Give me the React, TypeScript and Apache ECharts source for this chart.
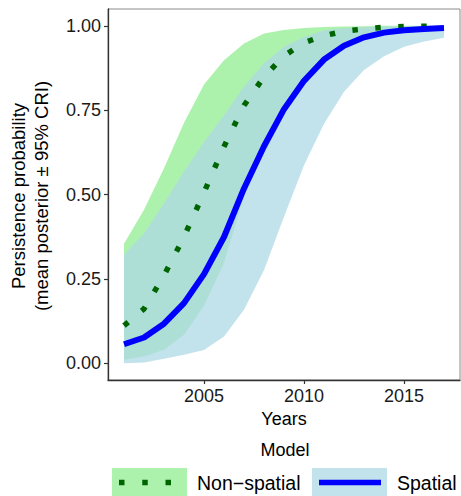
import React, { useEffect, useRef } from "react";
import * as echarts from "echarts";

const years = [2001, 2002, 2003, 2004, 2005, 2006, 2007, 2008, 2009, 2010, 2011, 2012, 2013, 2014, 2015, 2016, 2017];
const nonSpatialMean = [0.111, 0.161, 0.26, 0.374, 0.506, 0.642, 0.764, 0.849, 0.911, 0.95, 0.971, 0.984, 0.991, 0.996, 0.998, 0.999, 1.0];
const nonSpatialLower = [0.01, 0.02, 0.04, 0.084, 0.17, 0.297, 0.494, 0.63, 0.74, 0.826, 0.89, 0.933, 0.96, 0.975, 0.984, 0.989, 0.992];
const nonSpatialUpper = [0.354, 0.455, 0.578, 0.713, 0.826, 0.898, 0.948, 0.977, 0.988, 0.994, 0.997, 0.998, 0.999, 1.0, 1.0, 1.0, 1.0];
const spatialMean = [0.056, 0.076, 0.117, 0.178, 0.264, 0.374, 0.518, 0.643, 0.753, 0.837, 0.9, 0.941, 0.966, 0.98, 0.987, 0.991, 0.994];
const spatialLower = [0.0, 0.002, 0.013, 0.025, 0.039, 0.079, 0.158, 0.276, 0.434, 0.587, 0.71, 0.805, 0.869, 0.91, 0.938, 0.954, 0.965];
const spatialUpper = [0.321, 0.385, 0.474, 0.568, 0.656, 0.735, 0.82, 0.889, 0.938, 0.967, 0.987, 0.993, 0.996, 0.998, 0.999, 0.999, 1.0];

const xTicks = [2005, 2010, 2015];
const yTicks = [0, 0.25, 0.5, 0.75, 1.0];

const FONT = "Liberation Sans, Arial, Helvetica, sans-serif";
const GREEN_FILL = "#90EE90";
const BLUE_FILL = "#ADD8E6";
const BAND_OPACITY = 0.75;

function bandSeries(name: string, lower: number[], upper: number[], color: string) {
  return {
    type: "custom",
    name,
    silent: true,
    data: years.map((y, i) => [y, lower[i], upper[i]]),
    encode: { x: 0, y: [1, 2] },
    renderItem: (params: any, api: any) => {
      if (params.dataIndex !== 0) return null;
      const pts: number[][] = [];
      for (let i = 0; i < years.length; i++) pts.push(api.coord([years[i], upper[i]]));
      for (let i = years.length - 1; i >= 0; i--) pts.push(api.coord([years[i], lower[i]]));
      return {
        type: "polygon",
        shape: { points: pts },
        style: { fill: color, opacity: BAND_OPACITY },
      };
    },
  };
}

export default function App() {
  const ref = useRef<HTMLDivElement>(null);
  useEffect(() => {
    if (!ref.current) return;
    const chart = echarts.init(ref.current, undefined, { renderer: "svg" });
    const option: any = {
      animation: false,
      backgroundColor: "#ffffff",
      grid: {
        left: 108,
        right: 1,
        top: 9,
        bottom: 116,
        show: true,
        borderColor: "#8a8a8a",
        borderWidth: 1,
        containLabel: false,
        outerBoundsMode: "none",
      },
      xAxis: {
        type: "value",
        min: 2000.2,
        max: 2017.8,
        name: "Years",
        nameLocation: "middle",
        nameGap: 29,
        nameTextStyle: { fontSize: 18, color: "#000", fontFamily: FONT },
        axisLine: { show: true, onZero: false, lineStyle: { color: "#333", width: 1.3 } },
        axisTick: { show: true, length: 4, customValues: xTicks, lineStyle: { color: "#333", width: 1.2 } },
        axisLabel: {
          customValues: xTicks,
          fontSize: 18,
          color: "#1a1a1a",
          fontFamily: FONT,
          margin: 7,
          formatter: (v: number) => String(v),
        },
        splitLine: { show: false },
      },
      yAxis: {
        type: "value",
        min: -0.05,
        max: 1.05,
        axisLine: { show: true, onZero: false, lineStyle: { color: "#333", width: 1.3 } },
        axisTick: { show: true, length: 4, customValues: yTicks, lineStyle: { color: "#333", width: 1.2 } },
        axisLabel: {
          customValues: yTicks,
          fontSize: 18,
          color: "#1a1a1a",
          fontFamily: FONT,
          margin: 7,
          formatter: (v: number) => v.toFixed(2),
        },
        splitLine: { show: false },
      },
      series: [
        bandSeries("Non-spatial CRI", nonSpatialLower, nonSpatialUpper, GREEN_FILL),
        bandSeries("Spatial CRI", spatialLower, spatialUpper, BLUE_FILL),
        {
          type: "line",
          name: "Non-spatial",
          data: years.map((y, i) => [y, nonSpatialMean[i]]),
          showSymbol: false,
          symbol: "none",
          lineStyle: { color: "#006400", width: 5.5, type: [5.5, 17.5], cap: "butt" },
          z: 3,
        },
        {
          type: "line",
          name: "Spatial",
          data: years.map((y, i) => [y, spatialMean[i]]),
          showSymbol: false,
          symbol: "none",
          lineStyle: { color: "#0000ff", width: 6, cap: "butt", join: "round" },
          z: 4,
        },
      ],
      graphic: [
        {
          type: "text",
          x: 30,
          y: 196,
          rotation: Math.PI / 2,
          style: {
            text: "Persistence probability\n(mean posterior ± 95% CRI)",
            fontSize: 18.5,
            lineHeight: 23,
            fontFamily: FONT,
            fill: "#000",
            align: "center",
            verticalAlign: "middle",
          },
        },
        {
          type: "text",
          x: 285,
          y: 450,
          style: { text: "Model", fontSize: 18, fontFamily: FONT, fill: "#000", align: "center", verticalAlign: "middle" },
        },
        {
          type: "rect",
          shape: { x: 112, y: 468, width: 75, height: 28 },
          style: { fill: GREEN_FILL, opacity: BAND_OPACITY },
        },
        {
          type: "line",
          shape: { x1: 119, y1: 482.5, x2: 171, y2: 482.5 },
          style: { stroke: "#006400", lineWidth: 5.5, lineDash: [5.5, 17.75], lineCap: "butt" },
        },
        {
          type: "text",
          x: 197,
          y: 483,
          style: { text: "Non\u2212spatial", fontSize: 19.5, fontFamily: FONT, fill: "#000", align: "left", verticalAlign: "middle" },
        },
        {
          type: "rect",
          shape: { x: 312, y: 468, width: 75, height: 28 },
          style: { fill: BLUE_FILL, opacity: BAND_OPACITY },
        },
        {
          type: "line",
          shape: { x1: 319, y1: 482.5, x2: 381, y2: 482.5 },
          style: { stroke: "#0000ff", lineWidth: 5.5, lineCap: "butt" },
        },
        {
          type: "text",
          x: 397,
          y: 483,
          style: { text: "Spatial", fontSize: 19.5, fontFamily: FONT, fill: "#000", align: "left", verticalAlign: "middle" },
        },
      ],
    };
    chart.setOption(option);
    return () => chart.dispose();
  }, []);
  return (
    <div
      ref={ref}
      style={{ position: "fixed", left: 0, top: 0, width: 461, height: 496, background: "#fff" }}
    />
  );
}
